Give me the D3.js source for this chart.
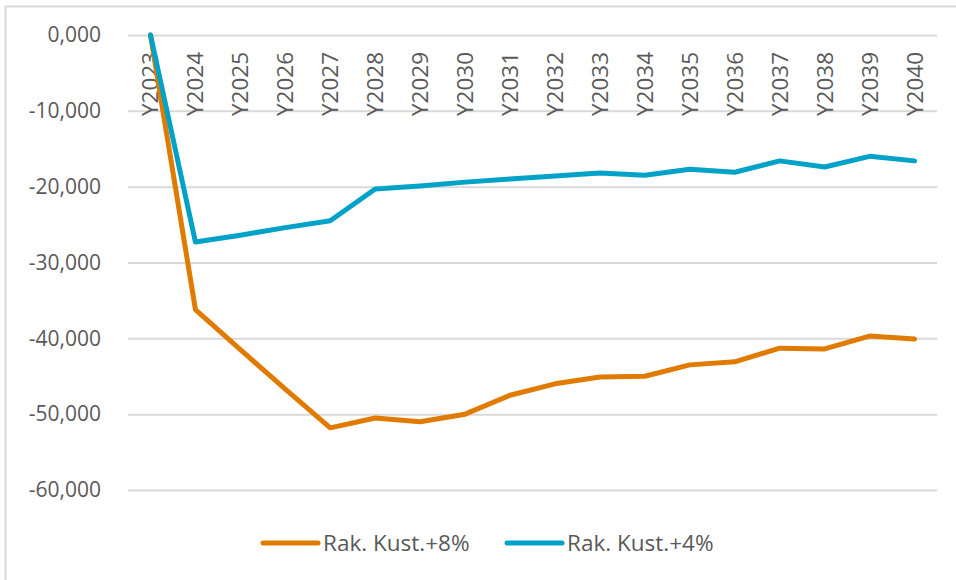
<!DOCTYPE html>
<html>
<head>
<meta charset="utf-8">
<script src="https://cdn.jsdelivr.net/npm/d3@7"></script>
<style>
  body { margin: 0; background: #fff; }
  text { font-family: "Open Sans", "Noto Sans", sans-serif; fill: #595959; }
</style>
</head>
<body>
<div id="chart"></div>
<script>
/* DATA */
const years = ["Y2023", "Y2024", "Y2025", "Y2026", "Y2027", "Y2028", "Y2029", "Y2030", "Y2031",
  "Y2032", "Y2033", "Y2034", "Y2035", "Y2036", "Y2037", "Y2038", "Y2039", "Y2040"];
const kust8 = [0, -36200, -41500, -46700, -51800, -50500, -51000, -50000, -47500,
  -46000, -45100, -45000, -43500, -43100, -41300, -41400, -39700, -40100];
const kust4 = [0, -27300, -26400, -25400, -24500, -20300, -19900, -19400, -19000,
  -18600, -18200, -18500, -17700, -18100, -16600, -17400, -16000, -16600];
const yTicks = [0, -10000, -20000, -30000, -40000, -50000, -60000];
const seriesNames = ["Rak. Kust.+8%", "Rak. Kust.+4%"];

/* CONSTANTS */
const width = 956,
  height = 580,
  margin = { top: 35, bottom: 90, left: 128, right: 19 };
const colors = ["#E07B00", "#00A2C7"];

const svg = d3.select("#chart")
  .append("svg")
  .attr("width", width)
  .attr("height", height);

// outer frame (cropped on the right and bottom)
svg.append("path")
  .attr("d", `M5.5,${height + 5} V6.5 H${width + 5}`)
  .attr("fill", "none")
  .attr("stroke", "#d9d9d9")
  .attr("stroke-width", 2);

/* SCALES */
const xScale = d3.scalePoint()
  .domain(years)
  .range([margin.left, width - margin.right])
  .padding(0.5);

const yScale = d3.scaleLinear()
  .domain([-60000, 0])
  .range([490, margin.top]);

/* GRIDLINES + Y AXIS */
const yAxis = d3.axisLeft(yScale)
  .tickValues(yTicks)
  .tickSize(-(width - margin.right - margin.left))
  .tickPadding(27)
  // "0,000" style labels with a plain hyphen for negatives
  .tickFormat(d => d === 0 ? "0,000" : d3.format(",")(d).replace("\u2212", "-"));

svg.append("g")
  .attr("class", "axis y-axis")
  .attr("transform", `translate(${margin.left},0)`)
  .call(yAxis)
  .call(g => g.select(".domain").remove())
  .call(g => g.selectAll("line").attr("stroke", "#d9d9d9").attr("stroke-width", 2))
  .call(g => g.selectAll("text")
    .attr("font-size", 21)
    .style("font-family", "'Open Sans', sans-serif")
    .attr("fill", "#595959"));

/* X AXIS LABELS (rotated, hanging below the zero line) */
svg.append("g")
  .attr("class", "axis x-axis")
  .selectAll("text")
  .data(years)
  .join("text")
  .attr("transform", d => `translate(${xScale(d) + 8},52) rotate(-90)`)
  .attr("text-anchor", "end")
  .attr("font-size", 22.5)
  .text(d => d);

/* LINES */
const line = d3.line()
  .x((d, i) => xScale(years[i]))
  .y(d => yScale(d));

[kust8, kust4].forEach((vals, i) => {
  svg.append("path")
    .datum(vals)
    .attr("fill", "none")
    .attr("stroke", colors[i])
    .attr("stroke-width", 5)
    .attr("stroke-linejoin", "round")
    .attr("stroke-linecap", "round")
    .attr("d", line);
});

/* LEGEND */
const legendX = [263, 507];
const legend = svg.append("g").attr("class", "legend");
seriesNames.forEach((name, i) => {
  legend.append("line")
    .attr("x1", legendX[i])
    .attr("x2", legendX[i] + 55)
    .attr("y1", 543)
    .attr("y2", 543)
    .attr("stroke", colors[i])
    .attr("stroke-width", 5)
    .attr("stroke-linecap", "round");
  legend.append("text")
    .attr("x", legendX[i] + 60)
    .attr("y", 543)
    .attr("dy", "0.36em")
    .attr("font-size", 22.5)
    .text(name);
});
</script>
</body>
</html>
